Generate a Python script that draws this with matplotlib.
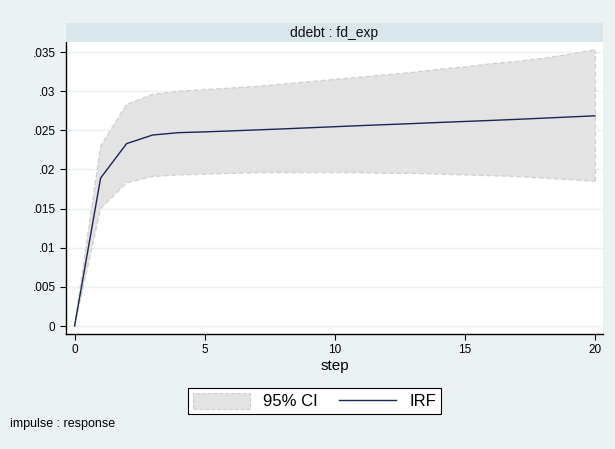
import matplotlib
matplotlib.use("Agg")
import matplotlib.pyplot as plt
from matplotlib.patches import Rectangle, Patch
from matplotlib.lines import Line2D
from matplotlib.ticker import FuncFormatter

plt.rcParams['font.family'] = ['Liberation Sans', 'DejaVu Sans']

steps = list(range(21))
irf = [0.0, 0.0189, 0.0233, 0.0244, 0.0247, 0.0248, 0.02492, 0.02505, 0.02518, 0.02532,
       0.02546, 0.0256, 0.02573, 0.02586, 0.026, 0.02613, 0.02626, 0.0264, 0.02655, 0.0267, 0.02685]
ci_upper = [0.0, 0.0230, 0.0283, 0.0296, 0.0300, 0.0302, 0.0304, 0.0306, 0.0309, 0.0312,
            0.0315, 0.0318, 0.0321, 0.0324, 0.0328, 0.0331, 0.0335, 0.0338, 0.0342, 0.0347, 0.0353]
ci_lower = [0.0, 0.0150, 0.0183, 0.0191, 0.0193, 0.0194, 0.0195, 0.0196, 0.0196, 0.0196,
            0.0196, 0.0196, 0.0195, 0.0195, 0.0194, 0.0193, 0.0192, 0.0191, 0.0189, 0.0187, 0.0185]
y_ticks = [0, 0.005, 0.01, 0.015, 0.02, 0.025, 0.03, 0.035]
x_ticks = [0, 5, 10, 15, 20]
panel_title = "ddebt : fd_exp"
x_label = "step"
note = "impulse : response"
legend_labels = ["95% CI", "IRF"]

W, H = 615, 449
bg = "#eaf2f3"
strip_col = "#d9e6eb"
fill_col = "#e3e3e3"
edge_col = "#d0d0d0"
line_col = "#1a2457"

fig = plt.figure(figsize=(W / 100, H / 100), dpi=100, facecolor=bg)
ax = fig.add_axes([66 / W, 1 - 334 / H, (603 - 66) / W, (334 - 42) / H])
ax.set_facecolor("white")

# strip
fig.patches.append(Rectangle((66 / W, 1 - 42 / H), (603 - 66) / W, 19 / H,
                             transform=fig.transFigure, facecolor=strip_col,
                             edgecolor="none", zorder=0))
fig.text((66 + 603) / 2 / W, 1 - 32.5 / H, panel_title, ha="center", va="center",
         fontsize=10, color="#111111")

for yv in y_ticks:
    ax.axhline(yv, color=bg, lw=1.0, zorder=0)

ax.fill_between(steps, ci_lower, ci_upper, facecolor=fill_col, edgecolor="none", zorder=1)
ax.plot(steps, ci_upper, color=edge_col, lw=0.9, ls=(0, (4, 2)), zorder=2)
ax.plot(steps, ci_lower, color=edge_col, lw=0.9, ls=(0, (4, 2)), zorder=2)
ax.plot([20, 20], [ci_lower[-1], ci_upper[-1]], color=edge_col, lw=0.9, ls=(0, (4, 2)), zorder=2)
ax.plot(steps, irf, color=line_col, lw=1.0, zorder=3)

ax.set_xlim(-0.33, 20.31)
ax.set_ylim(-0.00102, 0.03628)
ax.set_xticks(x_ticks)
ax.set_yticks(y_ticks)
ax.yaxis.set_major_formatter(FuncFormatter(lambda v, p: "0" if v == 0 else ("%g" % v).lstrip("0")))
ax.tick_params(axis="both", direction="out", length=4, width=0.8, labelsize=8.5, colors="black")
for s in ["top", "right"]:
    ax.spines[s].set_visible(False)
for s in ["left", "bottom"]:
    ax.spines[s].set_linewidth(1.0)
ax.set_xlabel(x_label, fontsize=11, labelpad=2)

handles = [Patch(facecolor=fill_col, edgecolor=edge_col, linestyle="--", lw=0.8),
           Line2D([], [], color=line_col, lw=1.0)]
leg = fig.legend(handles, legend_labels, loc="center", bbox_to_anchor=(314.5 / W, 1 - 401 / H),
                 ncol=2, fontsize=12, frameon=True, fancybox=False, edgecolor="black",
                 framealpha=1, handlelength=3.4, handleheight=1.1, columnspacing=1.3,
                 borderpad=0.3, handletextpad=0.8)
leg.get_frame().set_linewidth(0.8)

fig.text(10 / W, 1 - 424 / H, note, fontsize=9, ha="left", va="center")

fig.savefig("out.png", dpi=100, facecolor=bg)
